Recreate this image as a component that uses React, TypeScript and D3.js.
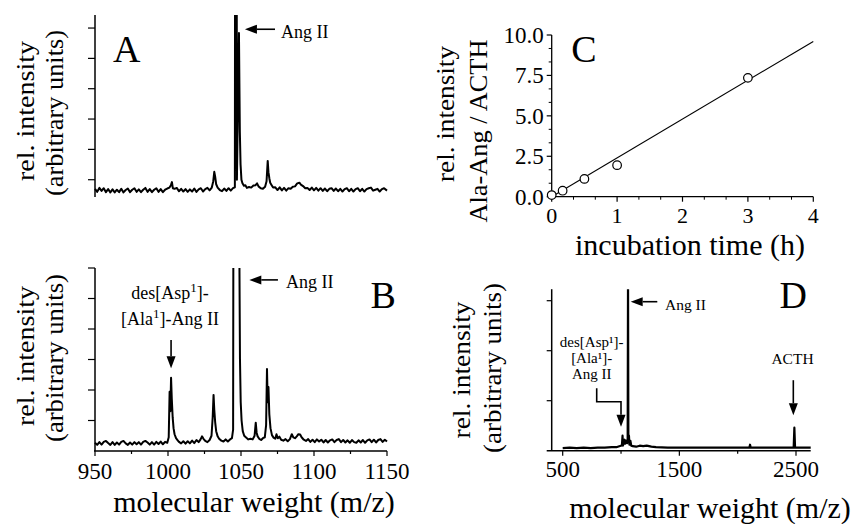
import React from 'react';
import * as d3 from 'd3';

const FONT = "'Liberation Serif','Times New Roman',Times,serif";

// ---------- Panel A spectrum: [m/z, intensity] ----------
const specA: [number, number][] = [
  [950,0.70],[951.5,0.60],[953,0.73],[954.5,0.63],[956,0.72],[957.5,0.59],[959,0.69],[960.5,0.58],[962,0.68],[963.5,0.58],
  [965,0.67],[966.5,0.59],[968,0.70],[969.5,0.58],[971,0.66],[972.5,0.71],[974,0.59],[975.5,0.67],[977,0.72],[978.5,0.60],
  [980,0.68],[981.5,0.59],[983,0.67],[984.5,0.73],[986,0.60],[987.5,0.69],[989,0.59],[990.5,0.67],[992,0.72],[993.5,0.60],
  [995,0.69],[996.5,0.59],[998,0.67],[999.5,0.71],[1001,0.74],[1002,0.82],[1002.7,0.92],[1003.3,0.72],[1004.5,0.70],[1006,0.73],
  [1007.5,0.62],[1009,0.70],[1010.5,0.61],[1012,0.69],[1013.5,0.60],[1015,0.68],[1016.5,0.61],[1018,0.71],[1019.5,0.60],[1021,0.68],
  [1022.5,0.72],[1024,0.61],[1025.5,0.69],[1027,0.73],[1028.5,0.65],[1030,0.74],[1031,0.95],[1031.7,1.26],[1032.3,1.10],[1033,0.85],
  [1034,0.74],[1035.5,0.66],[1037,0.62],[1038.5,0.71],[1040,0.63],[1041.5,0.72],[1043,0.64],[1044.5,0.72],[1045.8,0.75],[1046.5,40],
  [1047.2,1.0],[1048.6,5.84],[1048.9,4.2],[1049.2,2.6],[1049.7,1.5],[1050.3,1.0],[1051,0.88],[1052,0.80],[1053,0.82],[1054,0.73],
  [1055.5,0.76],[1057,0.74],[1058.5,0.81],[1060,0.82],[1061,0.88],[1062,0.78],[1063.5,0.72],[1065,0.70],[1066.5,0.77],[1067.5,0.95],
  [1068.3,1.62],[1068.8,1.25],[1069.4,1.05],[1070,0.90],[1071,0.82],[1072,0.74],[1073.5,0.75],[1075,0.66],[1076.5,0.75],[1078,0.65],
  [1079.5,0.73],[1081,0.64],[1082.5,0.72],[1084,0.70],[1085.5,0.77],[1087,0.78],[1088.5,0.88],[1090,0.90],[1091,0.84],[1092.5,0.79],
  [1094,0.72],[1095.5,0.73],[1097,0.66],[1098.5,0.74],[1100,0.65],[1101.5,0.73],[1103,0.64],[1104.5,0.72],[1106,0.63],[1107.5,0.71],
  [1109,0.62],[1110.5,0.70],[1112,0.72],[1113.5,0.63],[1115,0.71],[1116.5,0.62],[1118,0.70],[1119.5,0.61],[1121,0.69],[1122.5,0.72],
  [1124,0.62],[1125.5,0.70],[1127,0.61],[1128.5,0.69],[1130,0.72],[1131.5,0.62],[1133,0.70],[1134.5,0.61],[1136,0.69],[1137.5,0.72],
  [1139,0.74],[1140.5,0.64],[1142,0.67],[1143.5,0.70],[1145,0.61],[1146.5,0.69],[1148,0.72],[1150,0.64],
];

// ---------- Panel B spectrum ----------
const specB: [number, number][] = [
  [950,0.27],[951.5,0.20],[953,0.29],[954.5,0.21],[956,0.30],[957.5,0.33],[959,0.26],[960.5,0.20],[962,0.29],[963.5,0.20],
  [965,0.28],[966.5,0.21],[968,0.30],[969.5,0.33],[971,0.25],[972.5,0.20],[974,0.28],[975.5,0.21],[977,0.29],[978.5,0.22],
  [980,0.29],[981.5,0.21],[983,0.30],[984.5,0.33],[986,0.28],[987.5,0.21],[989,0.29],[990.5,0.21],[992,0.30],[993.5,0.23],
  [995,0.31],[996.5,0.22],[998,0.30],[999.5,0.27],[1000.5,0.45],[1001.1,1.94],[1001.6,1.30],[1002.1,2.40],[1002.6,1.70],[1003.2,1.10],
  [1003.8,0.75],[1004.5,0.55],[1005.5,0.42],[1006.5,0.36],[1007.5,0.30],[1009,0.25],[1010.5,0.32],[1012,0.24],[1013.5,0.32],[1015,0.25],
  [1016.5,0.34],[1018,0.26],[1019.5,0.36],[1021,0.29],[1022.3,0.38],[1023.3,0.48],[1024.3,0.40],[1025.5,0.33],[1027,0.29],[1028.5,0.36],
  [1029.8,0.50],[1030.6,1.10],[1031.2,1.84],[1031.7,1.35],[1032.3,0.95],[1033,0.65],[1034,0.48],[1035,0.40],[1036.5,0.34],[1038,0.31],
  [1039.5,0.38],[1041,0.31],[1042.5,0.38],[1043.8,0.42],[1044.6,0.70],[1045.4,30],[1048.7,30],[1048.95,5.9],[1049.3,3.0],[1049.8,1.6],
  [1050.4,1.0],[1051.2,0.65],[1052.2,0.50],[1053.5,0.44],[1055,0.38],[1056.5,0.40],[1058,0.38],[1059.3,0.50],[1060.1,0.93],[1060.7,0.60],
  [1061.4,0.48],[1062.5,0.40],[1063.8,0.36],[1065,0.42],[1066.3,0.45],[1067.2,0.85],[1067.8,2.69],[1068.3,1.60],[1068.8,2.10],[1069.4,1.20],
  [1070.2,0.75],[1071.2,0.52],[1072.3,0.44],[1073.5,0.40],[1074.3,0.55],[1075.2,0.42],[1076.3,0.47],[1077.5,0.37],[1079,0.34],[1080.5,0.39],
  [1082,0.32],[1083.5,0.39],[1084.8,0.55],[1085.8,0.45],[1087,0.42],[1088.2,0.48],[1089.3,0.55],[1090.5,0.54],[1091.5,0.45],[1093,0.37],
  [1094.5,0.33],[1096,0.39],[1097.5,0.30],[1099,0.37],[1100.5,0.29],[1102,0.38],[1103.5,0.31],[1105,0.37],[1106.5,0.28],[1108,0.36],
  [1109.5,0.28],[1111,0.35],[1112.5,0.38],[1114,0.29],[1115.5,0.36],[1117,0.39],[1118.5,0.29],[1120,0.36],[1121.5,0.28],[1123,0.35],
  [1124.5,0.27],[1126,0.36],[1127.5,0.29],[1129,0.27],[1130.5,0.35],[1132,0.28],[1133.5,0.36],[1135,0.27],[1136.5,0.35],[1138,0.38],
  [1139.5,0.29],[1141,0.37],[1142.5,0.28],[1144,0.36],[1145.5,0.39],[1147,0.30],[1148.5,0.37],[1150,0.31],
];

// ---------- Panel C: time course ----------
const timeC = [0, 0.167, 0.5, 1, 3];
const ratioC = [0.1, 0.37, 1.1, 1.95, 7.35];
const fitSlopeC = 2.4;
const fitInterceptC = 0;
const fitSpanC = [0, 4];
const xTicksC = [0, 1, 2, 3, 4];
const yTicksC = [0, 2.5, 5, 7.5, 10];
const yTickLabelsC = ['0.0', '2.5', '5.0', '7.5', '10.0'];

// ---------- Panel D spectrum ----------
const specD: [number, number][] = [
  [500,0.05],[560,0.06],[620,0.05],[680,0.06],[740,0.05],[800,0.06],[860,0.06],[920,0.07],[960,0.07],[985,0.09],
  [1000,0.10],[1008,0.12],[1013,0.30],[1016,0.10],[1024,0.16],[1030,0.22],[1036,0.14],[1044,0.20],[1052,0.15],[1057,0.20],
  [1060,3.5],[1063,0.18],[1068,0.30],[1072,0.12],[1080,0.20],[1088,0.10],[1100,0.09],[1130,0.08],[1160,0.10],[1190,0.09],
  [1220,0.10],[1260,0.08],[1300,0.07],[1400,0.06],[1500,0.06],[1600,0.06],[1700,0.06],[1800,0.06],[1900,0.06],[2000,0.06],
  [2100,0.06],[2106,0.12],[2112,0.06],[2200,0.06],[2300,0.06],[2400,0.06],[2480,0.06],[2486,0.46],[2492,0.06],[2630,0.06],
];

const mzTicksB = [950, 1000, 1050, 1100, 1150];
const mzMinorB = [975, 1025, 1075, 1125];
const mzTicksD = [500, 1500, 2500];
const mzMinorD = [1000, 2000];
const intensityTicksAB = [1, 2, 3, 4, 5, 6];
const intensityTicksD = [1, 2, 3];

const Arrow = ({ x1, y1, x2, y2 }: { x1: number; y1: number; x2: number; y2: number }) => {
  const L = 12, W = 4.5;
  const dx = Math.sign(x2 - x1), dy = Math.sign(y2 - y1);
  const bx = x2 - dx * L, by = y2 - dy * L;
  const pts = dx !== 0
    ? `${x2},${y2} ${bx},${y2 - W} ${bx},${y2 + W}`
    : `${x2},${y2} ${x2 - W},${by} ${x2 + W},${by}`;
  return (
    <g>
      <line x1={x1} y1={y1} x2={bx} y2={by} stroke="#000" strokeWidth={1.6} />
      <polygon points={pts} fill="#000" />
    </g>
  );
};

export default function App() {
  const xA = d3.scaleLinear().domain([950, 1150]).range([95, 387]);
  const yA = d3.scaleLinear().domain([0.43, 6.43]).range([197, 15]);
  const xB = d3.scaleLinear().domain([950, 1150]).range([95, 387]);
  const yB = d3.scaleLinear().domain([0, 6]).range([451, 268]);
  const xC = d3.scaleLinear().domain([0, 4]).range([551.7, 813.3]);
  const yC = d3.scaleLinear().domain([0, 10]).range([196.7, 35]);
  const xD = d3.scaleLinear().domain([500, 2500]).range([562.7, 796]);
  const yD = d3.scaleLinear().domain([0, 3]).range([450.7, 300.7]);
  const dTop = 3.23;
  const dLeft = 405.7;
  const dRight = 2626;

  const lineA = d3.line<[number, number]>().x(d => xA(d[0])).y(d => yA(d[1]));
  const lineB = d3.line<[number, number]>().x(d => xB(d[0])).y(d => yB(d[1]));
  const lineD = d3.line<[number, number]>().x(d => xD(d[0])).y(d => yD(d[1]));

  const minorC_x = d3.range(0, 4.001, 1 / 3).filter(v => Math.abs(v - Math.round(v)) > 0.01);
  const minorC_y = d3.range(0, 10.001, 2.5 / 3).filter(v => Math.abs(v / 2.5 - Math.round(v / 2.5)) > 0.01);

  const txt = { fontFamily: FONT, fill: '#000' } as const;
  const yLab = (x: number, yc: number, s: string, len: number) => (
    <text transform={`translate(${x},${yc}) rotate(-90)`} textAnchor="middle" fontSize={26}
      textLength={len} lengthAdjust="spacingAndGlyphs" style={txt}>{s}</text>
  );

  return (
    <svg width={858} height={524} viewBox="0 0 858 524"
      style={{ position: 'absolute', left: 0, top: 0, background: '#fff' }}>
      <defs>
        <clipPath id="clipA"><rect x={xA(950) - 2} y={yA(6.43)} width={xA(1150) - xA(950) + 4} height={yA(0.43) - yA(6.43)} /></clipPath>
        <clipPath id="clipB"><rect x={xB(950) - 2} y={yB(6)} width={xB(1150) - xB(950) + 4} height={yB(0) - yB(6)} /></clipPath>
        <clipPath id="clipD"><rect x={xD(dLeft)} y={yD(dTop)} width={xD(dRight) - xD(dLeft)} height={yD(0) - yD(dTop)} /></clipPath>
      </defs>
      <rect width={858} height={524} fill="#fff" />

      {/* ================= Panel A ================= */}
      <g>
        <line x1={xA(950)} x2={xA(950)} y1={yA(0.43)} y2={yA(6.43)} stroke="#000" strokeWidth={1.5} />
        {intensityTicksAB.map(t => (
          <line key={t} x1={xA(950) - 7} x2={xA(950)} y1={yA(t)} y2={yA(t)} stroke="#000" strokeWidth={1.2} />
        ))}
        <path d={lineA(specA) || ''} fill="none" stroke="#000" strokeWidth={2} strokeLinejoin="round" clipPath="url(#clipA)" />
        <text x={xA(962.3)} y={yA(4.88)} fontSize={38} style={txt}>A</text>
        <Arrow x1={xA(1073.3)} y1={yA(5.96)} x2={xA(1052.7)} y2={yA(5.96)} />
        <text x={xA(1077.4)} y={yA(5.66)} fontSize={18} style={txt}>Ang II</text>
        {yLab(34, 111, 'rel. intensity', 140)}
        {yLab(63, 113, '(arbitrary units)', 166)}
      </g>

      {/* ================= Panel B ================= */}
      <g>
        <line x1={xB(950)} x2={xB(950)} y1={yB(0)} y2={yB(6)} stroke="#000" strokeWidth={1.5} />
        <line x1={xB(950) - 1} x2={xB(1150)} y1={yB(0)} y2={yB(0)} stroke="#000" strokeWidth={1.5} />
        {intensityTicksAB.map(t => (
          <line key={t} x1={xB(950) - 7} x2={xB(950)} y1={yB(t)} y2={yB(t)} stroke="#000" strokeWidth={1.2} />
        ))}
        {mzTicksB.map(t => (
          <g key={t}>
            <line x1={xB(t)} x2={xB(t)} y1={yB(0)} y2={yB(0) + 5} stroke="#000" strokeWidth={1.2} />
            <text x={xB(t)} y={478.5} textAnchor="middle" fontSize={23} style={txt}>{t}</text>
          </g>
        ))}
        {mzMinorB.map(t => (
          <line key={t} x1={xB(t)} x2={xB(t)} y1={yB(0)} y2={yB(0) + 3} stroke="#000" strokeWidth={1.2} />
        ))}
        <path d={lineB(specB) || ''} fill="none" stroke="#000" strokeWidth={2} strokeLinejoin="round" clipPath="url(#clipB)" />
        <text x={xB(1138.7)} y={yB(4.68)} fontSize={38} style={txt}>B</text>
        <Arrow x1={xB(1075.3)} y1={yB(5.61)} x2={xB(1055.7)} y2={yB(5.61)} />
        <text x={xB(1080.8)} y={yB(5.35)} fontSize={18} style={txt}>Ang II</text>
        <text x={xB(1001.4)} y={yB(4.97)} textAnchor="middle" fontSize={18} style={txt}>
          des[Asp<tspan dy={-7} fontSize={13}>1</tspan><tspan dy={7}>]-</tspan>
        </text>
        <text x={xB(1001.4)} y={yB(4.13)} textAnchor="middle" fontSize={18} style={txt}>
          [Ala<tspan dy={-7} fontSize={13}>1</tspan><tspan dy={7}>]-Ang II</tspan>
        </text>
        <Arrow x1={xB(1002.1)} y1={yB(3.64)} x2={xB(1002.1)} y2={yB(2.71)} />
        {yLab(34, 356, 'rel. intensity', 140)}
        {yLab(63, 358, '(arbitrary units)', 168)}
        <text x={254} y={512} textAnchor="middle" fontSize={30} style={txt}>molecular weight (m/z)</text>
      </g>

      {/* ================= Panel C ================= */}
      <g>
        <line x1={xC(0)} x2={xC(0)} y1={yC(0)} y2={yC(10)} stroke="#000" strokeWidth={1.3} />
        <line x1={xC(0)} x2={xC(4)} y1={yC(0)} y2={yC(0)} stroke="#000" strokeWidth={1.3} />
        {xTicksC.map(t => (
          <g key={t}>
            <line x1={xC(t)} x2={xC(t)} y1={yC(0)} y2={yC(0) + 5} stroke="#000" strokeWidth={1.2} />
            <text x={xC(t)} y={223} textAnchor="middle" fontSize={22} style={txt}>{t}</text>
          </g>
        ))}
        {minorC_x.map(t => (
          <line key={t} x1={xC(t)} x2={xC(t)} y1={yC(0)} y2={yC(0) + 3} stroke="#000" strokeWidth={1} />
        ))}
        {yTicksC.map((t, i) => (
          <g key={t}>
            <line x1={xC(0) - 5} x2={xC(0)} y1={yC(t)} y2={yC(t)} stroke="#000" strokeWidth={1.2} />
            <text x={xC(0) - 8} y={yC(t) + 8} textAnchor="end" fontSize={23} style={txt}>{yTickLabelsC[i]}</text>
          </g>
        ))}
        {minorC_y.map(t => (
          <line key={t} x1={xC(0) - 3} x2={xC(0)} y1={yC(t)} y2={yC(t)} stroke="#000" strokeWidth={1} />
        ))}
        <line x1={xC(fitSpanC[0])} y1={yC(fitInterceptC + fitSlopeC * fitSpanC[0])}
          x2={xC(fitSpanC[1])} y2={yC(fitInterceptC + fitSlopeC * fitSpanC[1])} stroke="#000" strokeWidth={1.1} />
        {timeC.map((t, i) => (
          <circle key={i} cx={xC(t)} cy={yC(ratioC[i])} r={4.3} fill="#fff" stroke="#000" strokeWidth={1.2} />
        ))}
        <text x={xC(0.3)} y={yC(8.35)} fontSize={38} style={txt}>C</text>
        {yLab(454, 114, 'rel. intensity', 136)}
        {yLab(487, 131, 'Ala-Ang / ACTH', 183)}
        <text x={690} y={255} textAnchor="middle" fontSize={30} style={txt}>incubation time (h)</text>
      </g>

      {/* ================= Panel D ================= */}
      <g>
        <line x1={xD(dLeft)} x2={xD(dLeft)} y1={yD(0)} y2={yD(dTop)} stroke="#000" strokeWidth={1.5} />
        <line x1={xD(dLeft) - 5} x2={xD(dRight)} y1={yD(0)} y2={yD(0)} stroke="#000" strokeWidth={1.5} />
        {intensityTicksD.map(t => (
          <line key={t} x1={xD(dLeft) - 5} x2={xD(dLeft)} y1={yD(t)} y2={yD(t)} stroke="#000" strokeWidth={1.2} />
        ))}
        {mzTicksD.map(t => (
          <g key={t}>
            <line x1={xD(t)} x2={xD(t)} y1={yD(0)} y2={yD(0) + 5} stroke="#000" strokeWidth={1.2} />
            <text x={xD(t)} y={476.7} textAnchor="middle" fontSize={23} style={txt}>{t}</text>
          </g>
        ))}
        {mzMinorD.map(t => (
          <line key={t} x1={xD(t)} x2={xD(t)} y1={yD(0)} y2={yD(0) + 3} stroke="#000" strokeWidth={1.2} />
        ))}
        <path d={lineD(specD) || ''} fill="none" stroke="#000" strokeWidth={2.2} strokeLinejoin="round" clipPath="url(#clipD)" />
        <text x={xD(2358.6)} y={yD(2.85)} fontSize={38} style={txt}>D</text>
        <Arrow x1={xD(1311)} y1={yD(2.98)} x2={xD(1083)} y2={yD(2.98)} />
        <text x={xD(1377)} y={yD(2.81)} fontSize={15.5} style={txt}>Ang II</text>
        <text x={xD(748.6)} y={yD(2.07)} textAnchor="middle" fontSize={15} style={txt}>des[Asp¹]-</text>
        <text x={xD(748.6)} y={yD(1.75)} textAnchor="middle" fontSize={15} style={txt}>[Ala¹]-</text>
        <text x={xD(748.6)} y={yD(1.43)} textAnchor="middle" fontSize={15} style={txt}>Ang II</text>
        <polyline points={`${xD(791.5)},${yD(1.25)} ${xD(791.5)},${yD(0.98)} ${xD(999.8)},${yD(0.98)}`}
          fill="none" stroke="#000" strokeWidth={1.6} />
        <Arrow x1={xD(999.8)} y1={yD(0.98) - 0.8} x2={xD(999.8)} y2={yD(0.48)} />
        <text x={xD(2470)} y={yD(1.73)} textAnchor="middle" fontSize={15.5} style={txt}>ACTH</text>
        <Arrow x1={xD(2477)} y1={yD(1.41)} x2={xD(2477)} y2={yD(0.71)} />
        {yLab(470, 370, 'rel. intensity', 137)}
        {yLab(501, 368, '(arbitrary units)', 170)}
        <text x={710} y={518} textAnchor="middle" fontSize={30} style={txt}>molecular weight (m/z)</text>
      </g>
    </svg>
  );
}
